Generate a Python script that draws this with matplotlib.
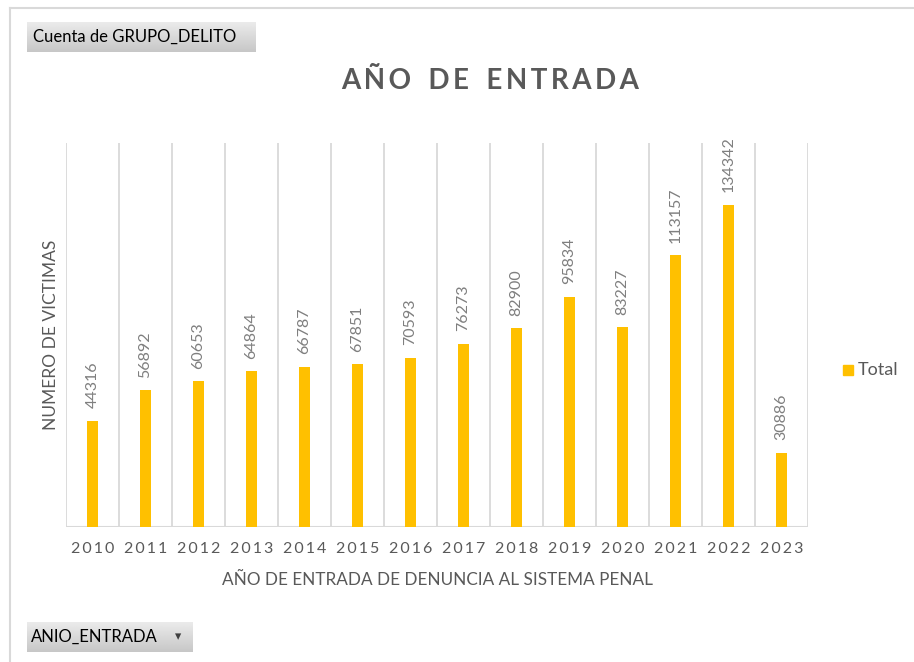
import numpy as np
import matplotlib.pyplot as plt
from matplotlib.patches import Rectangle
from matplotlib.lines import Line2D

# ---------- data ----------
years = ["2010", "2011", "2012", "2013", "2014", "2015", "2016",
         "2017", "2018", "2019", "2020", "2021", "2022", "2023"]
victimas = [44316, 56892, 60653, 64864, 66787, 67851, 70593,
            76273, 82900, 95834, 83227, 113157, 134342, 30886]

bar_color = "#FFC000"
grid_color = "#d9d9d9"
text_gray = "#595959"
FONT = ["Lato", "DejaVu Sans"]

W, H = 914, 662
fig = plt.figure(figsize=(W / 100, H / 100), dpi=100)
fig.patch.set_facecolor("white")

# plot area in pixels: x 66..808, y 143..527
ax = fig.add_axes([66 / W, 1 - 527 / H, (808 - 66) / W, (527 - 143) / H])
x = np.arange(len(years))
ax.bar(x, victimas, width=0.19, color=bar_color, zorder=3)
ax.set_xlim(-0.5, len(years) - 0.5)
ax.set_ylim(0, 160000)

# vertical category gridlines
for b in np.arange(-0.5, len(years) + 0.5, 1):
    ax.axvline(b, color=grid_color, lw=1.3, zorder=1)
for s in ax.spines.values():
    s.set_visible(False)
ax.axhline(0, color=grid_color, lw=1.5, zorder=2)

ax.set_yticks([])
ax.set_xticks(x)
ax.set_xticklabels(["\u2009".join(y) for y in years], color=text_gray,
                   fontsize=11.5, family=FONT)
ax.tick_params(axis="x", length=0, pad=11)

# data labels
for xi, v in zip(x, victimas):
    ax.annotate(str(v), (xi, v), xytext=(0, 9), textcoords="offset points",
                rotation=90, ha="center", va="bottom", color="#7f7f7f",
                fontsize=11.5, family=FONT)

# titles and axis labels
fig.text(490 / W, 1 - 81 / H, "A\u2009Ñ\u2009O\u2002\u2009D\u2009E\u2002\u2009E\u2009N\u2009T\u2009R\u2009A\u2009D\u2009A",
         ha="center", va="center", fontsize=20, fontweight="bold",
         color=text_gray, family=FONT)
fig.text(437 / W, 1 - 580 / H, "AÑO DE ENTRADA DE DENUNCIA AL SISTEMA PENAL",
         ha="center", va="center", fontsize=12.3, color=text_gray,
         family=FONT)
fig.text(51 / W, 1 - 335 / H, "NUMERO DE VICTIMAS", rotation=90,
         ha="center", va="center", fontsize=12.5, color=text_gray,
         family=FONT)

# legend
fig.patches.append(Rectangle((843 / W, 1 - 375 / H), 10 / W, 10 / H,
                             transform=fig.transFigure, color=bar_color))
fig.text(858 / W, 1 - 370 / H, "Total", ha="left", va="center",
         fontsize=13, color=text_gray, family=FONT)

# chart border (top and left)
fig.add_artist(Line2D([10 / W, 1], [1 - 8 / H, 1 - 8 / H],
                      transform=fig.transFigure, color=grid_color, lw=1.5))
fig.add_artist(Line2D([10 / W, 10 / W], [0, 1 - 8 / H],
                      transform=fig.transFigure, color=grid_color, lw=1.5))

# field buttons
def button(x0, y0, x1, y1, label):
    grad = np.linspace(0.92, 0.78, 50).reshape(-1, 1)
    bax = fig.add_axes([x0 / W, 1 - y1 / H, (x1 - x0) / W, (y1 - y0) / H])
    bax.imshow(grad, cmap="gray", vmin=0, vmax=1, aspect="auto",
               extent=[0, 1, 0, 1])
    bax.set_axis_off()
    bax.text(0.025, 0.5, label, ha="left", va="center", fontsize=12,
             color="black", family=FONT, transform=bax.transAxes)
    return bax

button(27, 22, 256, 52, "Cuenta de GRUPO_DELITO")
b2 = button(27, 622, 193, 652, "ANIO_ENTRADA")
b2.text(0.91, 0.5, "\u25BE", ha="center", va="center", fontsize=9,
        color="#404040", family="DejaVu Sans", transform=b2.transAxes)

fig.savefig("out.png", dpi=100)
